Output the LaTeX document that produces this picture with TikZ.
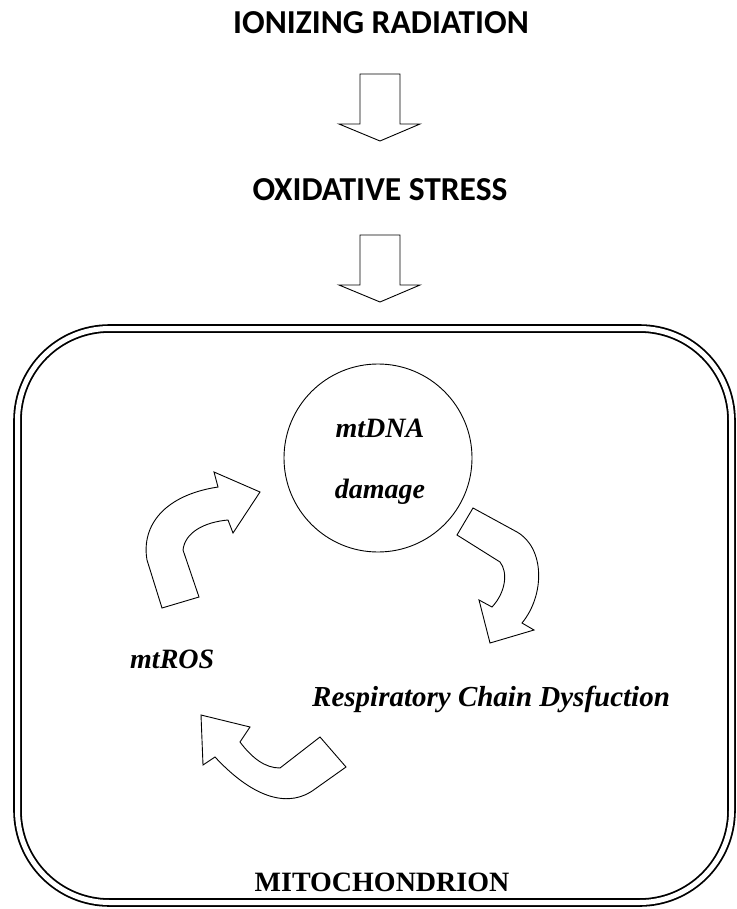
\documentclass[tikz,border=0pt]{standalone}
\usepackage{fontspec}
\setmainfont{Liberation Serif}
\newfontfamily\headfont{Carlito}
\usetikzlibrary{positioning}

\tikzset{
  headtext/.style={font=\headfont\bfseries\fontsize{33.5}{40}\selectfont, inner sep=0pt},
  cycletext/.style={font=\bfseries\itshape\fontsize{28}{34}\selectfont, inner sep=0pt},
  mitotext/.style={font=\bfseries\fontsize{28}{34}\selectfont, inner sep=0pt},
  blockarrow/.style={draw, fill=white, line width=0.9pt, line join=miter},
  mitobox/.style={draw, double, line width=1.8pt, double distance=5pt, rounded corners=92pt, inner sep=0pt},
}

\begin{document}
\begin{tikzpicture}[x=1pt,y=-1pt]
\useasboundingbox (0,0) rectangle (736,909);

\node [headtext, anchor=base] (ion) at (381,34) {IONIZING RADIATION};
\node [headtext, anchor=base] (ox) at (380,201) {OXIDATIVE STRESS};

\draw [blockarrow] (360,74)--(400,74)--(400,124)--(420,124)--(380,141)--(339,124)--(360,124)--cycle;
\draw [blockarrow] (360,235)--(400,235)--(400,285)--(420,285)--(380,302)--(339,285)--(360,285)--cycle;

\node [mitobox, minimum width=714pt, minimum height=574pt] (mito) at (374.5,615.5) {};
\node [mitotext, anchor=base] (mitoname) at (382,891) {MITOCHONDRION};

\node [draw, circle, line width=0.9pt, minimum size=188pt] (dna) at (378,458) {};
\node [cycletext, anchor=base] (dnaA) at (380,437) {mtDNA};
\node [cycletext, anchor=base] (dnaB) at (380,498) {damage};
\node [cycletext, anchor=base west] (ros) at (130,668) {mtROS};
\node [cycletext, anchor=base west, font=\bfseries\itshape\fontsize{29}{34}\selectfont] (resp) at (312,706) {Respiratory Chain Dysfuction};

\draw [blockarrow] (162,608)--(147,560) .. controls (141,525) and (165,495) .. (218,487)
  --(214,472)--(260,492)--(233,533)--(228,520) .. controls (205,522) and (185,532) .. (183,550)--(199,597)--cycle;
\draw [blockarrow] (473,508)--(517,532) .. controls (545,548) and (545,595) .. (522,623)
  --(534,630)--(490,643)--(479,600)--(492,607) .. controls (506,592) and (508,572) .. (500,562)--(457,535)--cycle;
\draw [blockarrow] (320,737)--(346,767)--(315,789) .. controls (290,808) and (255,800) .. (215,757)
  --(203,765)--(201,715)--(250,727)--(240,742) .. controls (252,758) and (265,768) .. (280,768)--cycle;

\end{tikzpicture}
\end{document}
